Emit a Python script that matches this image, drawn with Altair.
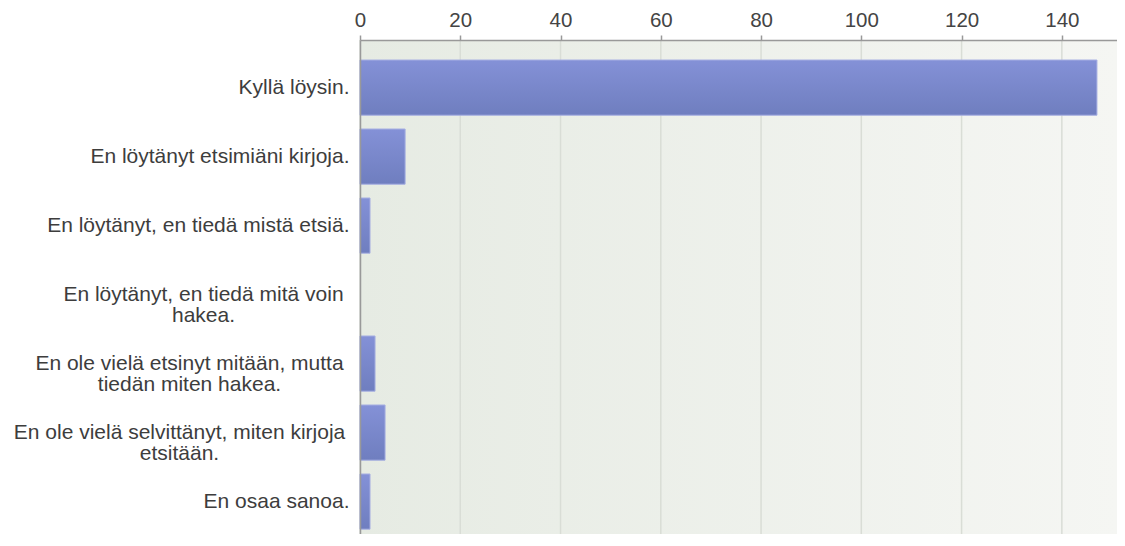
import altair as alt
import pandas as pd

# ---- data ----
categories = [
    "Kyllä löysin.",
    "En löytänyt etsimiäni kirjoja.",
    "En löytänyt, en tiedä mistä etsiä.",
    "En löytänyt, en tiedä mitä voin\nhakea.",
    "En ole vielä etsinyt mitään, mutta\ntiedän miten hakea.",
    "En ole vielä selvittänyt, miten kirjoja\netsitään.",
    "En osaa sanoa.",
]
counts = [147, 9, 2, 0, 3, 5, 2]
tick_values = [0, 20, 40, 60, 80, 100, 120, 140]
x_max = 151

W, H = 757, 494
FONT = "Liberation Sans"

df = pd.DataFrame({"answer": categories, "count": counts})
grid_df = pd.DataFrame({"tick": tick_values})
bg_df = pd.DataFrame({"start": [0], "end": [x_max]})

x_scale = alt.Scale(domain=[0, x_max], nice=False, zero=True)
y_scale = alt.Scale(domain=categories, paddingInner=0.2, paddingOuter=0.18, align=0.806)

x_axis = alt.Axis(
    orient="top",
    values=tick_values,
    grid=False,
    title=None,
    domainColor="#999999",
    domainWidth=1.5,
    tickColor="#999999",
    tickSize=5,
    tickWidth=1.5,
    labelFont=FONT,
    labelFontSize=20.5,
    labelColor="#444444",
    labelPadding=5,
    labelFlush=False,
    labelOverlap=False,
    zindex=1,
)

bg = alt.Chart(bg_df).mark_rect(
    fill=alt.Gradient(
        gradient="linear",
        stops=[
            alt.GradientStop(color="#e6ebe3", offset=0),
            alt.GradientStop(color="#f5f6f3", offset=1),
        ],
        x1=0, x2=1, y1=0, y2=0,
    )
).encode(
    x=alt.X("start:Q", scale=x_scale, axis=x_axis),
    x2="end:Q",
    y=alt.value(0),
    y2=alt.value(H),
)

grid = alt.Chart(grid_df).mark_rule(color="#d9ddd6", strokeWidth=1.5).encode(
    x=alt.X("tick:Q", scale=x_scale, axis=x_axis),
    y=alt.value(0),
    y2=alt.value(H),
)

bars = alt.Chart(df).mark_bar(
    color=alt.Gradient(
        gradient="linear",
        stops=[
            alt.GradientStop(color="#8491d7", offset=0),
            alt.GradientStop(color="#6f7ebf", offset=1),
        ],
        x1=0, x2=0, y1=0, y2=1,
    ),
    stroke="#a6afe2",
    strokeWidth=1,
).encode(
    x=alt.X("count:Q", scale=x_scale, axis=x_axis),
    y=alt.Y(
        "answer:N",
        scale=y_scale,
        sort=categories,
        axis=alt.Axis(
            title=None,
            ticks=False,
            tickSize=0,
            domainColor="#999999",
            domainWidth=1.5,
            labelFont=FONT,
            labelFontSize=21,
            labelColor="#3d3d3d",
            labelLimit=500,
            labelLineHeight=21,
            labelExpr="split(datum.label, '\\n')",
            labelAlign={
                "condition": {"test": "indexof(datum.value, '\\n') >= 0", "value": "center"},
                "value": "right",
            },
            labelPadding={
                "condition": [
                    {"test": "indexof(datum.value, 'mitä voin') >= 0", "value": 157},
                    {"test": "indexof(datum.value, 'mutta') >= 0", "value": 171},
                    {"test": "indexof(datum.value, 'selvittänyt') >= 0", "value": 181},
                ],
                "value": 11,
            },
            zindex=1,
        ),
    ),
    strokeOpacity=alt.condition("datum.count > 0", alt.value(1), alt.value(0)),
)

chart = alt.layer(bg, grid, bars).properties(
    width=W,
    height=H,
    autosize=alt.AutoSizeParams(type="none"),
    padding={"left": 352, "top": 32, "right": 0, "bottom": 0},
).configure_view(stroke=None)

chart.save("out.html", embed_options={"renderer": "svg", "actions": False})
